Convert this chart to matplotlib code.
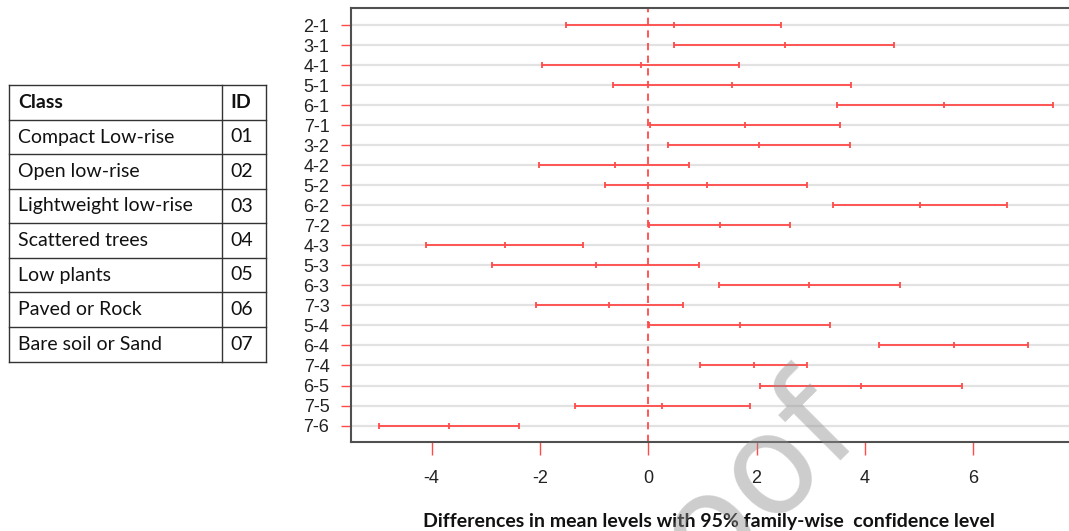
import matplotlib.pyplot as plt
from matplotlib.lines import Line2D

# ---------------------------------------------------------------
# DADOS

pares = ['2-1', '3-1', '4-1', '5-1', '6-1', '7-1', '3-2', '4-2', '5-2', '6-2',
         '7-2', '4-3', '5-3', '6-3', '7-3', '5-4', '6-4', '7-4', '6-5', '7-5',
         '7-6']
inferior = [-1.52, 0.47, -1.96, -0.66, 3.49, 0.03, 0.36, -2.01, -0.79, 3.41,
            0.02, -4.10, -2.89, 1.31, -2.08, 0.02, 4.26, 0.96, 2.07, -1.35,
            -4.98]
media = [0.47, 2.52, -0.13, 1.55, 5.47, 1.79, 2.05, -0.62, 1.08, 5.01,
         1.32, -2.65, -0.97, 2.96, -0.72, 1.69, 5.64, 1.95, 3.93, 0.25,
         -3.68]
superior = [2.46, 4.54, 1.67, 3.74, 7.48, 3.55, 3.72, 0.75, 2.94, 6.63,
            2.62, -1.21, 0.94, 4.65, 0.65, 3.35, 7.02, 2.94, 5.80, 1.87,
            -2.38]
xticks = [-4, -2, 0, 2, 4, 6]

classes = ['Compact Low-rise', 'Open low-rise', 'Lightweight low-rise',
           'Scattered trees', 'Low plants', 'Paved or Rock',
           'Bare soil or Sand']
ids = ['01', '02', '03', '04', '05', '06', '07']

vermelho = '#ff4a4a'

# ---------------------------------------------------------------
# FIGURA

fig = plt.figure(figsize=(10.69, 5.31), dpi=100)
ax = fig.add_axes([351/1069, 1 - 442/531, 1 - 351/1069, (442 - 8)/531])

y = list(range(len(pares)))

# Linhas de grade claras
for yi in y:
    ax.axhline(yi, color='#e2e2e2', lw=1.6, zorder=1)

# Zero tracejado
ax.axvline(0, color=vermelho, lw=1.3, ls=(0, (4, 3)), zorder=2)

# Intervalos de confiança
ax.hlines(y, inferior, superior, color=vermelho, lw=1.3, zorder=3)
for serie in (inferior, media, superior):
    ax.plot(serie, y, ls='none', marker='|', ms=5, mew=1.3,
            color=vermelho, zorder=4)

ax.set_ylim(len(pares) - 1 + 0.82, -0.85)
ax.set_xlim(-5.49, 7.77)

ax.set_yticks(y)
ax.set_yticklabels(pares, family='Liberation Sans', fontsize=13,
                   color='#222222')
ax.set_xticks(xticks)
ax.set_xticklabels([str(v) for v in xticks], family='Liberation Sans',
                   fontsize=13, color='#222222')
ax.tick_params(axis='y', length=7.5, width=1, color=vermelho, pad=8)
ax.tick_params(axis='x', length=9, width=1, color=vermelho, pad=11)

for lado in ('left', 'top', 'bottom'):
    ax.spines[lado].set_color('#505050')
    ax.spines[lado].set_linewidth(1.5)
ax.spines['right'].set_visible(False)

fig.text(709/1069, 1 - 521/531,
         'Differences in mean levels with 95% family-wise  confidence level',
         ha='center', va='center', family='Lato', fontweight='bold',
         fontsize=14, color='#111111')

# ---------------------------------------------------------------
# TABELA

bordas_y = [85, 120, 154, 189, 223, 258, 292, 327, 362]
x_esq, x_div, x_dir = 9, 222, 266


def px(x, yy):
    return x/1069, 1 - yy/531


for yy in bordas_y:
    fig.add_artist(Line2D([x_esq/1069, x_dir/1069], [1 - yy/531] * 2,
                          color='#333333', lw=1))
for xx in (x_esq, x_div, x_dir):
    fig.add_artist(Line2D([xx/1069] * 2,
                          [1 - bordas_y[0]/531, 1 - bordas_y[-1]/531],
                          color='#333333', lw=1))

linhas = [('Class', 'ID')] + list(zip(classes, ids))
for i, (c, n) in enumerate(linhas):
    yc = (bordas_y[i] + bordas_y[i + 1]) / 2
    peso = 'bold' if i == 0 else 'normal'
    fig.text(*px(18, yc), c, ha='left', va='center', family='Lato',
             fontsize=14, fontweight=peso, color='#111111')
    fig.text(*px(230, yc), n, ha='left', va='center', family='Lato',
             fontsize=14, fontweight=peso, color='#111111')

# Marca d'água
fig.text(*px(709, 524), 'Proof', rotation=45, ha='center', va='center',
         family='DejaVu Sans', fontsize=100,
         color='#909090', alpha=0.45, zorder=10)

fig.savefig('out.png', dpi=100)
